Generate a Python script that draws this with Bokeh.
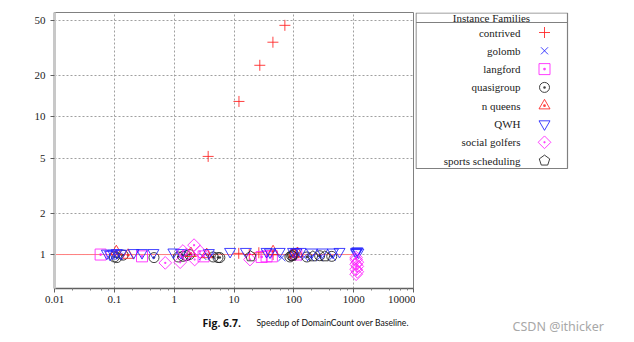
from bokeh.plotting import figure
from bokeh.models import Range1d, FixedTicker, CustomJSTickFormatter
from bokeh.layouts import row, column
from bokeh.embed import file_html
from bokeh.resources import INLINE
from bokeh.core.properties import value
import math

# ---------------- data ----------------
families = ["contrived", "golomb", "langford", "quasigroup", "n queens",
            "QWH", "social golfers", "sports scheduling"]

contrived_x = [3.7, 12.1, 27, 44.7, 70.8, 12, 18, 26, 45]
contrived_y = [5.15, 12.9, 23.6, 34.7, 46, 1.02, 1.0, 1.03, 1.0]

golomb_x = [0.12, 3.0, 4.2, 63, 95, 150, 190, 270, 440]
golomb_y = [0.97, 0.97, 0.98, 0.95, 0.97, 0.96, 0.95, 0.95, 0.96]

langford_x = [0.059, 0.29, 3.1, 29, 35, 43, 110]
langford_y = [1.0, 0.97, 0.97, 0.96, 0.97, 0.97, 1.0]

quasigroup_x = [0.1, 0.11, 0.14, 0.46, 1.17, 1.4, 1.6, 1.8, 4.5, 5.4, 5.8,
                86, 92, 100, 165, 270, 430]
quasigroup_y = [0.96, 0.95, 0.99, 0.95, 0.96, 0.97, 0.98, 1.0, 0.96, 0.95, 0.95,
                0.96, 0.98, 1.0, 0.96, 0.98, 0.97]

nqueens_x = [0.108, 0.17, 1.9, 3.5, 45, 100, 115]
nqueens_y = [1.05, 0.99, 1.02, 1.0, 1.05, 1.0, 1.02]

qwh_x = [0.075, 0.085, 0.095, 0.11, 0.13, 0.21, 0.29, 0.45, 0.97, 1.3, 3.8,
         8.6, 15.8, 35, 40, 58, 97, 110, 130, 200, 300, 450, 580,
         1100, 1100, 1150, 1200]
qwh_y = [1.02, 1.0, 1.02, 1.03, 1.02, 1.03, 1.03, 1.03, 1.04, 1.03, 1.03,
         1.05, 1.05, 1.05, 1.04, 1.05, 1.05, 1.04, 1.05, 1.04, 1.04, 1.04, 1.05,
         1.05, 1.03, 1.06, 1.04]

social_x = [0.71, 1.26, 1.4, 1.6, 2.15, 2.2, 2.7, 18.5,
            1100, 1100, 1150, 1100, 1150, 1100, 1150, 1100]
social_y = [0.87, 0.88, 1.06, 1.0, 1.17, 0.92, 1.05, 0.92,
            0.95, 0.92, 0.88, 0.85, 0.82, 0.78, 0.75, 0.72]

sports_x = [19, 95, 208, 330]
sports_y = [0.97, 0.98, 0.97, 0.97]

baseline_x = [0.01, 1000]
baseline_y = [1, 1]

x_ticks = [0.01, 0.1, 1, 10, 100, 1000, 10000]
x_tick_labels = ["0.01", "0.1", "1", "10", "100", "1000", "10000"]
y_ticks = [1, 2, 5, 10, 20, 50]
y_tick_labels = ["1", "2", "5", "10", "20", "50"]

caption_bold = "Fig. 6.7."
caption_rest = "Speedup of DomainCount over Baseline."
watermark = "CSDN @ithicker"
legend_title = "Instance Families"

series = [
    (contrived_x, contrived_y),
    (golomb_x, golomb_y),
    (langford_x, langford_y),
    (quasigroup_x, quasigroup_y),
    (nqueens_x, nqueens_y),
    (qwh_x, qwh_y),
    (social_x, social_y),
    (sports_x, sports_y),
]

# ---------------- styles ----------------
markers = ["cross", "x", "square_dot", "circle_dot", "triangle_dot",
           "inverted_triangle", "rdiamond", "pentagon"]
colors = ["#ff2020", "#2020ff", "#ff20ff", "#202020", "#ff2020",
          "#2020ff", "#ff20ff", "#202020"]
sizes = [11, 10, 11, 10, 11, 11, 9, 11]

SERIF = "Liberation Serif"
TOP = 12
PLOT_H = 312
CAP_H = 342 - PLOT_H


def fmt(tvals, tlabels):
    return CustomJSTickFormatter(
        args=dict(tvals=tvals, tlabels=tlabels),
        code="""
        for (let i = 0; i < tvals.length; i++) {
            if (Math.abs(Math.log10(tvals[i]) - Math.log10(tick)) < 1e-6) return tlabels[i];
        }
        return '';
        """)


p = figure(width=415, height=PLOT_H, x_axis_type="log", y_axis_type="log",
           x_range=Range1d(0.01, 10000), y_range=Range1d(0.567, 57),
           output_backend="svg", toolbar_location=None,
           min_border_left=54, min_border_right=2, min_border_top=TOP,
           min_border_bottom=24)
p.background_fill_color = "white"
p.border_fill_color = "white"
p.outline_line_color = "#808080"
p.outline_line_width = 1

p.xaxis.ticker = FixedTicker(ticks=x_ticks, minor_ticks=[
    m * d for d in [0.01, 0.1, 1, 10, 100, 1000] for m in [2, 4, 6, 8]])
p.yaxis.ticker = FixedTicker(ticks=y_ticks)
p.xaxis.formatter = fmt(x_ticks, x_tick_labels)
p.yaxis.formatter = fmt(y_ticks, y_tick_labels)

for ax in (p.xaxis, p.yaxis):
    ax.major_label_text_font = SERIF
    ax.major_label_text_font_size = "11px"
    ax.major_label_text_color = "#222222"
    ax.major_tick_in = 0
    ax.major_tick_out = 4
    ax.major_tick_line_color = "#606060"
    ax.minor_tick_in = 0
    ax.minor_tick_out = 2
    ax.minor_tick_line_color = "#808080"
p.yaxis.axis_line_color = "#c8c8c8"
p.yaxis.axis_line_width = 3
p.xaxis.axis_line_color = "#606060"
p.xaxis.axis_line_width = 1.5
p.yaxis.major_label_standoff = 5
p.xaxis.major_label_standoff = 3

for g in (p.xgrid, p.ygrid):
    g.grid_line_color = "#a0a0a0"
    g.grid_line_dash = "2 2"
    g.grid_line_width = 1

p.line(baseline_x, baseline_y, line_color="#ff8080", line_width=1)


def draw(fig, x, y, i):
    m = markers[i]
    kw = dict(line_color=colors[i], line_width=1, line_alpha=0.85)
    if m == "pentagon":
        try:
            fig.ngon(x=x, y=y, radius=5.5, radius_units="screen", n=5,
                     angle=0.0, fill_color=None, **kw)
            return
        except Exception:
            m = "hex"
    if m == "rdiamond":
        fig.scatter(x=x, y=y, marker="square_dot", angle=math.pi / 4,
                    size=sizes[i], fill_color=None, **kw)
    elif m in ("cross", "x"):
        fig.scatter(x=x, y=y, marker=m, size=sizes[i], **kw)
    else:
        fig.scatter(x=x, y=y, marker=m, size=sizes[i], fill_color=None, **kw)


for i, (xs, ys) in enumerate(series):
    draw(p, xs, ys, i)

# ---------------- legend figure (pixel-like coordinates, y from top) ----------------
n = len(families)
LEG_W = 634 - 415
frame_h = PLOT_H - TOP - 24
q = figure(width=LEG_W, height=PLOT_H, x_range=Range1d(0, LEG_W),
           y_range=Range1d(frame_h, 0),
           output_backend="svg", toolbar_location=None,
           x_axis_location=None, y_axis_location=None,
           min_border_left=0, min_border_right=0, min_border_top=TOP,
           min_border_bottom=24)
q.xgrid.visible = False
q.ygrid.visible = False
q.outline_line_color = None
q.background_fill_color = "white"
q.border_fill_color = "white"

box_w, box_h = 152, 156
row_y = [20 + 18.3 * i for i in range(n)]
q.quad(left=[0.5], right=[box_w], top=[0.5], bottom=[box_h], fill_color=None,
       line_color="#808080", line_width=1.2)
q.segment(x0=[0.5], y0=[10], x1=[box_w], y1=[10], line_color="#808080",
          line_width=1.2)
q.text(x=[box_w / 2], y=[5], text=[legend_title], text_align="center",
       text_baseline="middle", text_font=value(SERIF), text_font_size="11px",
       text_color="#222222")
q.text(x=[105] * n, y=row_y, text=families, text_align="right",
       text_baseline="middle", text_font=value(SERIF), text_font_size="11px",
       text_color="#222222")
for i in range(n):
    draw(q, [129], [row_y[i]], i)

# ---------------- caption figure ----------------
c = figure(width=634, height=CAP_H, x_range=Range1d(0, 634),
           y_range=Range1d(CAP_H, 0),
           output_backend="svg", toolbar_location=None,
           x_axis_location=None, y_axis_location=None,
           min_border_left=0, min_border_right=0, min_border_top=0,
           min_border_bottom=0)
c.xgrid.visible = False
c.ygrid.visible = False
c.outline_line_color = None
c.background_fill_color = "white"
c.border_fill_color = "white"
c.text(x=[202], y=[10.5], text=[caption_bold], text_align="left",
       text_baseline="middle", text_font=value("Open Sans"), text_font_size="10.5px",
       text_font_style="bold", text_color="#111111")
c.text(x=[256], y=[10.5], text=[caption_rest], text_align="left",
       text_baseline="middle", text_font=value("Lato"), text_font_size="8.6px",
       text_color="#111111")
c.text(x=[512], y=[14], text=[watermark], text_align="left",
       text_baseline="middle", text_font=value("Noto Sans"),
       text_font_size="12.5px", text_color="#a8a8a8")

layout = column(row(p, q), c)
open("out.html", "w").write(file_html(layout, INLINE))
